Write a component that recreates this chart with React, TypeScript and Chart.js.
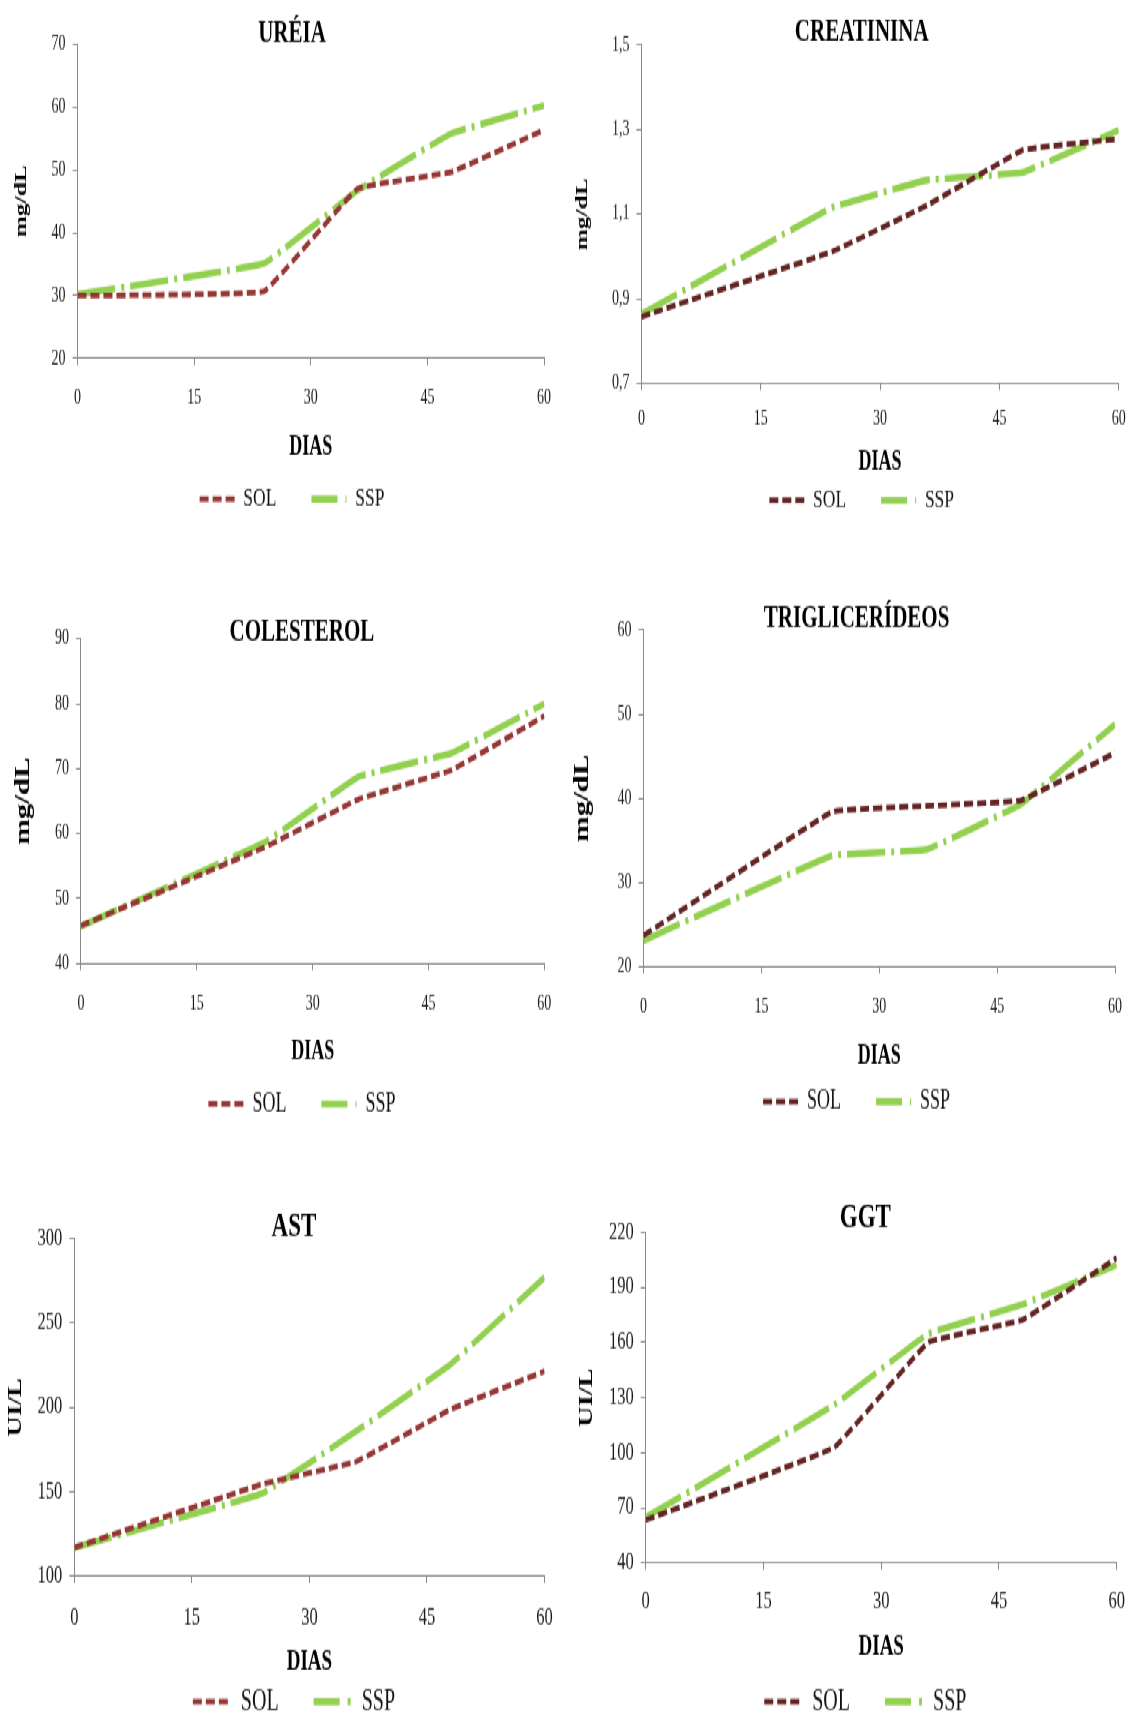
import React, { useEffect, useRef } from 'react';
import { Chart, registerables } from 'chart.js';

Chart.register(...registerables);

// ---------- data ----------
const DAYS = [0, 24, 36, 48, 60];
const X_TICKS = [0, 15, 30, 45, 60];
const SERIES = ['SOL', 'SSP'];

const UREIA_SOL = [30.0, 30.7, 47.0, 49.6, 56.3];
const UREIA_SSP = [30.2, 35.1, 46.7, 55.7, 60.2];
const UREIA_TICKS = [20, 30, 40, 50, 60, 70];

const CREAT_SOL = [0.858, 1.012, 1.122, 1.252, 1.278];
const CREAT_SSP = [0.864, 1.116, 1.181, 1.199, 1.299];
const CREAT_TICKS = [0.7, 0.9, 1.1, 1.3, 1.5];

const COLEST_SOL = [45.8, 58.0, 65.3, 69.8, 78.1];
const COLEST_SSP = [45.7, 58.8, 68.8, 72.4, 80.0];
const COLEST_TICKS = [40, 50, 60, 70, 80, 90];

const TRIG_SOL = [23.7, 38.4, 39.1, 39.75, 45.4];
const TRIG_SSP = [23.1, 33.2, 33.9, 39.3, 48.8];
const TRIG_TICKS = [20, 30, 40, 50, 60];

const AST_SOL = [116.9, 154.5, 167.9, 198.8, 221.4];
const AST_SSP = [116.9, 149.0, 186.0, 225.5, 277.0];
const AST_TICKS = [100, 150, 200, 250, 300];

const GGT_SOL = [63.4, 102.8, 160.0, 172.2, 205.9];
const GGT_SSP = [64.8, 126.0, 164.7, 180.6, 202.2];
const GGT_TICKS = [40, 70, 100, 130, 160, 190, 220];

// ---------- style / layout ----------
const S = 1.5; // vertical stretch of the whole picture
const TXT_DY = 2; // visual text centre correction (final px)
const FAMILY = '"Liberation Serif", "Times New Roman", serif';
const AXIS_COLOR = '#8a8a8a';
const TICK_COLOR = '#1a1a1a';
const SOL_RED = '#953735';
const SOL_BROWN = '#632523';
const SSP_GREEN = '#92D050';
const SOL_DASH = [9, 4];
const SSP_DASH = [38, 6, 3, 6];
const LEGEND_DASH = [[9, 4], [26, 8, 3, 40]];

const ROW1 = { tick: 14, title: 21, axis: 18, yTitle: 17, legend: 17.5, sym: 35 };
const ROW2 = { tick: 14, title: 21, axis: 18, yTitle: 20.5, legend: 18, sym: 35 };
const ROW3 = { tick: 16.5, title: 23, axis: 19, yTitle: 19, legend: 20, sym: 38 };

type Panel = {
  title: string; yLabel: string; sol: number[]; ssp: number[]; yTicks: number[]; decimals: number; solColor: string;
  fonts: typeof ROW1;
  x0: number; w: number; top0: number; center: number; plotL: number; plotR: number;
  titleY: number; plotT: number; plotB: number; xLabY: number; diasY: number; legY: number; yTitleX: number;
};

const PANELS: Panel[] = [
  { title: 'URÉIA', yLabel: 'mg/dL', sol: UREIA_SOL, ssp: UREIA_SSP, yTicks: UREIA_TICKS, decimals: 0, solColor: SOL_RED, fonts: ROW1,
    x0: 0, w: 566, top0: 0, center: 292, plotL: 77.6, plotR: 544, titleY: 31.7, plotT: 43.7, plotB: 358.4, xLabY: 395.5, diasY: 445.8, legY: 497, yTitleX: 21.9 },
  { title: 'CREATININA', yLabel: 'mg/dL', sol: CREAT_SOL, ssp: CREAT_SSP, yTicks: CREAT_TICKS, decimals: 1, solColor: SOL_BROWN, fonts: ROW1,
    x0: 566, w: 570, top0: 0, center: 861.7, plotL: 641.4, plotR: 1125.4, titleY: 30.6, plotT: 44.8, plotB: 383.5, xLabY: 416.3, diasY: 460, legY: 498.2, yTitleX: 582.4 },
  { title: 'COLESTEROL', yLabel: 'mg/dL', sol: COLEST_SOL, ssp: COLEST_SSP, yTicks: COLEST_TICKS, decimals: 0, solColor: SOL_RED, fonts: ROW2,
    x0: 0, w: 566, top0: 560, center: 301.9, plotL: 80.9, plotR: 552.9, titleY: 631.5, plotT: 639.2, plotB: 963.7, xLabY: 1003, diasY: 1050, legY: 1102.4, yTitleX: 24 },
  { title: 'TRIGLICERÍDEOS', yLabel: 'mg/dL', sol: TRIG_SOL, ssp: TRIG_SSP, yTicks: TRIG_TICKS, decimals: 0, solColor: SOL_BROWN, fonts: ROW2,
    x0: 566, w: 570, top0: 560, center: 856.6, plotL: 643.5, plotR: 1117.7, titleY: 617.3, plotT: 630.4, plotB: 967, xLabY: 1005.2, diasY: 1054.4, legY: 1100, yTitleX: 582.4 },
  { title: 'AST', yLabel: 'UI/L', sol: AST_SOL, ssp: AST_SSP, yTicks: AST_TICKS, decimals: 0, solColor: SOL_RED, fonts: ROW3,
    x0: 0, w: 566, top0: 1150, center: 296, plotL: 74.3, plotR: 551.8, titleY: 1224.8, plotT: 1238, plotB: 1575.5, xLabY: 1614.9, diasY: 1659.7, legY: 1699, yTitleX: 16.4 },
  { title: 'GGT', yLabel: 'UI/L', sol: GGT_SOL, ssp: GGT_SSP, yTicks: GGT_TICKS, decimals: 0, solColor: SOL_BROWN, fonts: ROW3,
    x0: 566, w: 570, top0: 1150, center: 865.9, plotL: 645.7, plotR: 1123.2, titleY: 1215, plotT: 1231.4, plotB: 1562.4, xLabY: 1598.5, diasY: 1644.4, legY: 1699, yTitleX: 586.7 },
];

const u = (v: number) => v / S;

function tickText(p: Panel, v: number) {
  return p.decimals > 0 ? v.toFixed(p.decimals).replace('.', ',') : String(v);
}

function geometry(p: Panel) {
  const f = p.fonts;
  const yTickLen = 5;
  const yTickPad = 7;
  const widest = Math.max(...p.yTicks.map((v) => tickText(p, v).length)) * 0.5 * f.tick;
  const L = Math.min(2 * p.center - p.plotR, p.plotL - yTickLen - yTickPad - widest - 1.5);
  const padL = L - p.x0;
  const padR = p.x0 + p.w - p.plotR;
  const yAxisW = p.plotL - L;
  const top = u(p.top0);
  const tLH = f.title * 1.2;
  const titleY = p.titleY + TXT_DY;
  const tPadTop = u(titleY) - top - tLH / 2;
  const tPadBottom = u(p.plotT) - u(titleY) - tLH / 2;
  const xTickLen = 4.5;
  const xPad = u(p.xLabY + TXT_DY) - u(p.plotB) - xTickLen - 0.6 * f.tick;
  const legPad = 35;
  const legTop = u(p.legY + TXT_DY) - legPad - f.legend / 2;
  const xAxisH = legTop - u(p.plotB);
  const aLH = f.axis * 1.2;
  const diasPadBottom = legTop - u(p.diasY + TXT_DY) - aLH / 2;
  const yLH = f.yTitle * 1.2;
  const yTitlePadTop = (p.yTitleX - L) - yLH / 2;
  const Hexact = legTop + f.legend + legPad + 10 - top;
  const H = Math.ceil(Hexact);
  const padB = H - Hexact;
  return { padL, padR, yAxisW, top, tPadTop, tPadBottom, xTickLen, xPad, yTickLen, yTickPad, legPad, xAxisH, diasPadBottom, yTitlePadTop, H, padB };
}

function buildConfig(p: Panel, g: ReturnType<typeof geometry>): any {
  const f = p.fonts;
  const toPts = (arr: number[]) => DAYS.map((d, i) => ({ x: d, y: arr[i] }));
  return {
    type: 'line',
    data: {
      datasets: [
        { label: SERIES[0], data: toPts(p.sol), borderColor: p.solColor, backgroundColor: p.solColor, borderWidth: 3.8,
          borderDash: SOL_DASH, pointRadius: 0, tension: 0.06, fill: false },
        { label: SERIES[1], data: toPts(p.ssp), borderColor: SSP_GREEN, backgroundColor: SSP_GREEN, borderWidth: 4.6,
          borderDash: SSP_DASH, pointRadius: 0, tension: 0.06, fill: false },
      ],
    },
    options: {
      responsive: false,
      maintainAspectRatio: false,
      animation: false,
      events: [],
      layout: { padding: { left: g.padL, right: g.padR, top: 0, bottom: g.padB } },
      plugins: {
        tooltip: { enabled: false },
        title: {
          display: true, text: p.title, color: '#000',
          font: { family: FAMILY, size: f.title, weight: 'bold' },
          padding: { top: g.tPadTop, bottom: g.tPadBottom },
        },
        legend: {
          display: true, position: 'bottom',
          labels: {
            usePointStyle: true, pointStyle: 'line', pointStyleWidth: f.sym, padding: g.legPad,
            color: '#111', font: { family: FAMILY, size: f.legend },
            generateLabels: (chart: any) => {
              const items = (Chart as any).defaults.plugins.legend.labels.generateLabels(chart);
              items.forEach((it: any, i: number) => { it.lineDash = LEGEND_DASH[i]; it.pointStyle = 'line'; });
              return items;
            },
          },
        },
      },
      scales: {
        x: {
          type: 'linear', min: X_TICKS[0], max: X_TICKS[X_TICKS.length - 1],
          afterBuildTicks: (sc: any) => { sc.ticks = X_TICKS.map((v) => ({ value: v })); },
          afterFit: (sc: any) => { sc.height = g.xAxisH; },
          grid: { display: true, drawOnChartArea: false, drawTicks: true, tickLength: g.xTickLen, color: AXIS_COLOR, lineWidth: 1 },
          border: { display: true, color: AXIS_COLOR, width: 1 },
          ticks: { padding: g.xPad, color: TICK_COLOR, font: { family: FAMILY, size: f.tick }, maxRotation: 0, autoSkip: false,
            callback: (v: number) => String(v) },
          title: { display: true, text: 'DIAS', color: '#000', font: { family: FAMILY, size: f.axis, weight: 'bold' },
            padding: { top: 0, bottom: g.diasPadBottom } },
        },
        y: {
          type: 'linear', min: p.yTicks[0], max: p.yTicks[p.yTicks.length - 1],
          afterBuildTicks: (sc: any) => { sc.ticks = p.yTicks.map((v) => ({ value: v })); },
          afterFit: (sc: any) => { sc.width = g.yAxisW; },
          grid: { display: true, drawOnChartArea: false, drawTicks: true, tickLength: g.yTickLen, color: AXIS_COLOR, lineWidth: 1 },
          border: { display: true, color: AXIS_COLOR, width: 1 },
          ticks: { padding: g.yTickPad, color: TICK_COLOR, font: { family: FAMILY, size: f.tick }, autoSkip: false,
            callback: (v: number) => tickText(p, v) },
          title: { display: true, text: p.yLabel, color: '#000', font: { family: FAMILY, size: f.yTitle, weight: 'bold' },
            padding: { top: g.yTitlePadTop, bottom: 0 } },
        },
      },
    },
  };
}

function PanelChart({ p }: { p: Panel }) {
  const ref = useRef<HTMLCanvasElement>(null);
  const g = geometry(p);
  useEffect(() => {
    const chart = new Chart(ref.current as HTMLCanvasElement, buildConfig(p, g));
    return () => chart.destroy();
  }, []);
  return (
    <canvas
      ref={ref}
      width={p.w}
      height={g.H}
      style={{ position: 'absolute', left: p.x0, top: g.top, width: p.w, height: g.H }}
    />
  );
}

export default function App() {
  return (
    <div
      style={{
        position: 'absolute', left: 0, top: 0, width: 1133, height: 1713 / S, overflow: 'hidden',
        transform: `scaleY(${S})`, transformOrigin: '0 0', background: '#fff',
      }}
    >
      {PANELS.map((p) => (
        <PanelChart key={p.title} p={p} />
      ))}
    </div>
  );
}
